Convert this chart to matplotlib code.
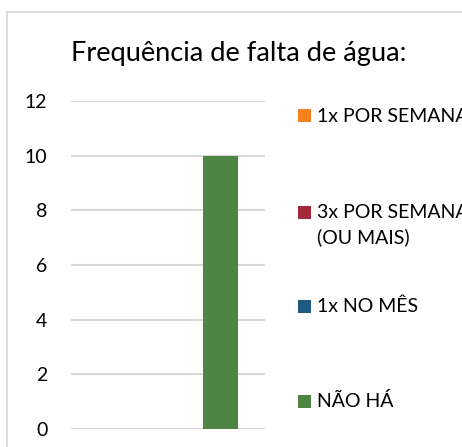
import matplotlib
matplotlib.use('Agg')
import matplotlib.pyplot as plt
from matplotlib.patches import Rectangle

# Chart data
title = 'Frequência de falta de água:'
categories = ['']
series = ['1x POR SEMANA', '3x POR SEMANA\n(OU MAIS)', '1x NO MÊS', 'NÃO HÁ']
values = [[0], [0], [0], [10]]
colors = ['#F4821F', '#A3293A', '#1F5A80', '#4E8542']
yticks = [0, 2, 4, 6, 8, 10, 12]

W, H = 462, 447
plt.rcParams['font.family'] = ['Lato', 'DejaVu Sans']

fig = plt.figure(figsize=(W / 100, H / 100), dpi=100)

# outer chart border (right and bottom are cut off in the original)
fig.patches.append(Rectangle((7 / W, -0.2), 1.5, (H - 12) / H + 0.2,
                             transform=fig.transFigure, fill=False,
                             edgecolor='#D9D9D9', linewidth=1.3))

ax = fig.add_axes([71 / W, (H - 429) / H, 194 / W, 328 / H])

bar_w = 35 / 194
n = len(series)
for i, name in enumerate(series):
    xs = [c + (i - (n - 1) / 2) * bar_w for c in range(len(categories))]
    ax.bar(xs, values[i], width=bar_w, color=colors[i], zorder=2)

ax.set_xlim(-0.5, len(categories) - 0.5)
ax.set_ylim(0, 12)
ax.set_yticks(yticks)
ax.set_xticks([])
ax.yaxis.grid(True, color='#D9D9D9', linewidth=1.5, zorder=0)
ax.tick_params(axis='y', length=0, pad=17, labelsize=14, labelcolor='#000000')
for s in ax.spines.values():
    s.set_visible(False)

fig.text(239 / W, 1 - 61 / H, title, ha='center', va='baseline',
         fontsize=19.6, color='#000000')

# legend drawn by hand, on the right side
marker_y = [116, 212, 306, 401]
for i, name in enumerate(series):
    y = marker_y[i]
    fig.patches.append(Rectangle((298 / W, 1 - (y + 6.5) / H), 13 / W, 13 / H,
                                 transform=fig.transFigure,
                                 facecolor=colors[i], edgecolor='none'))
    fig.text(317 / W, 1 - (y + 6) / H, name.split('\n')[0], ha='left',
             va='baseline', fontsize=14, color='#000000')
    if '\n' in name:
        fig.text(317 / W, 1 - (y + 31) / H, name.split('\n')[1], ha='left',
                 va='baseline', fontsize=14, color='#000000')

fig.savefig('out.png', dpi=100)
